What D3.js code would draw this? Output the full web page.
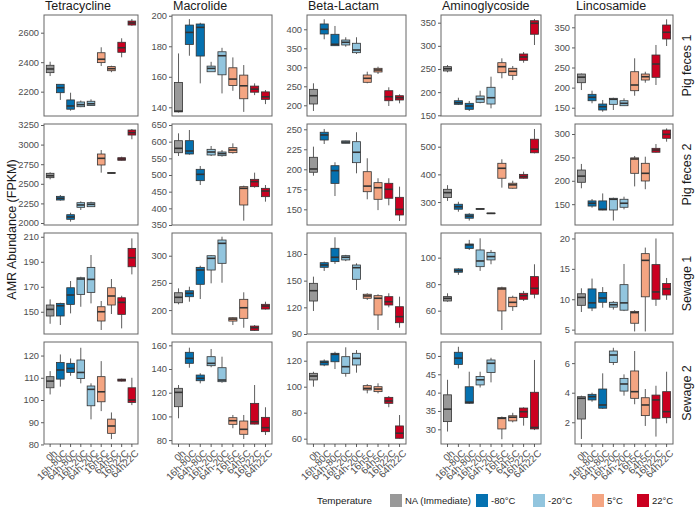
<!DOCTYPE html>
<html><head><meta charset="utf-8">
<script src="https://cdn.jsdelivr.net/npm/d3@7"></script>
<style>body{margin:0;background:#fff}svg{display:block}text{font-family:"Liberation Sans",Arial,sans-serif}</style>
</head><body><svg id="c" width="696" height="508"></svg>
<script>
const categories = ["0h","16h-80C","64h-80C","16h-20C","64h-20C","16h5C","64h5C","16h22C","64h22C"];
const categoryTemp = [0,1,1,2,2,3,3,4,4];
const drugs = ["Tetracycline","Macrolide","Beta-Lactam","Aminoglycoside","Lincosamide"];
const samples = ["Pig feces 1","Pig feces 2","Sewage 1","Sewage 2"];
const tempLabels = ["NA (Immediate)","-80°C","-20°C","5°C","22°C"];
const tempColors = ["#999999","#0571b0","#92c5de","#f4a582","#ca0020"];

// box stats per category: [lower whisker, Q1, median, Q3, upper whisker]
const tet_pig1 = [[2306,2329,2354,2379,2403],[2144,2193,2227,2250,2250],[2071,2081,2103,2144,2193],[2095,2098,2112,2130,2140],[2103,2106,2118,2135,2148],[2374,2397,2420,2464,2501],[2332,2342,2356,2370,2376],[2433,2467,2498,2535,2562],[2647,2652,2666,2679,2693]];
const mac_pig1 = [[136.6,137,137.5,156.3,175.3],[173.8,181.2,189.1,193.9,197.8],[155.7,173.6,192.4,194.6,195.4],[163.3,163.3,165.5,167,169.8],[149.1,161.3,173.8,176.4,179],[150.8,154.3,158.5,165.9,172.7],[137,145.6,154.1,161.1,167.7],[148,149.9,151.9,153.9,155.7],[142.1,145.2,146.9,150.1,151.3]];
const beta_pig1 = [[185,203.4,225.2,242,257.9],[373.7,387.6,400,414,426.3],[356,356.8,360.5,386.8,408.7],[354.2,358.7,365.8,371.8,379],[335,338.4,345.5,363.2,379],[257.9,260.5,271,279.7,288.4],[282.4,287.6,292.9,297.3,301.6],[198.1,212,222.6,238.4,247.3],[205.2,213.9,220,225.2,228.9]];
const amino_pig1 = [[242.9,245.7,250.6,255,258.6],[172.2,173.7,177.2,181.5,188],[159.3,162.9,170.1,175.9,180.9],[175.9,178,185.2,191.7,203.1],[165,174.4,188,210.5,233.4],[229.9,242,255,263.6,273.1],[226.2,236.4,245,251.5,256.5],[263.6,268.8,275.9,282.4,286.7],[301.8,325,348.7,354.3,358]];
const linco_pig1 = [[194,212.2,226,233.8,235],[161,167.4,175.9,183.3,192.3],[140,144.3,152.5,159.2,169.2],[144.3,158.4,171,173.4,174.9],[154.2,155,161,167.4,173.4],[179.8,192.3,206.5,239.5,272.9],[212.2,218.9,227.1,233.8,239.5],[206.5,225.6,258.7,281.1,306],[303.5,320.9,337.6,355.7,369.9]];

const tet_pig2 = [[2557,2578,2603,2634,2647],[2285,2293,2315,2340,2357],[2017,2047,2077,2106,2131],[2166,2200,2230,2259,2277],[2204,2208,2238,2259,2272],[2642,2740,2825,2880,2931],[2630,2635,2638,2642,2645],[2795,2800,2816,2833,2846],[3068,3122,3152,3186,3199]];
const mac_pig2 = [[557,566.9,580,602.9,625],[561,563,572,603,635],[470,483,502,517,527],[557,560,569,577,587],[555,558,564,569,575],[564,567,575,582,595],[363,410,460,465,468],[462,465,480,487,507],[420,435,452,460,470]];
const beta_pig2 = [[192,196.3,200.4,215,228.3],[231.6,236.6,242.9,246.3,250.4],[166.6,182.4,198.3,204.5,208.8],[232.3,232.5,234,235.5,235.8],[195,208.3,221.3,234.5,246.3],[162.5,172,179,197,213.8],[149,162.5,177,183.3,188.8],[155,163.8,175,182.5,188.8],[135.4,142.9,150,165,178.3]];
const amino_pig2 = [[304,316,334,346,361],[265,274,283,292,301],[233,241.5,249,256,259.6],[273,274,275,276,277],[257,258,259,260,261],[352,386,422,440,454.5],[348,350,362,368,377],[384,386,392,400,410],[476,478,491,527,564]];
const linco_pig2 = [[184,196.8,210,223,236],[142.5,146,152,157,161],[137,137.6,139,157,173],[115,137.6,160.5,162.6,164],[139,143.4,152,160.5,166],[188,216,246.6,249,253],[182,199.6,216,237.4,251.5],[260,261,265.8,269.4,278.6],[283.6,290.8,299.3,308.5,312]];

const tet_sew1 = [[140.4,146.6,151.9,155.4,159.9],[139.4,146.6,154.8,156.7,157.2],[148.7,155.9,163.4,169.2,174.6],[154,163.9,176.2,177.2,178],[156.7,165.5,175.9,185.5,195.4],[135.4,142.6,150,154,158.6],[148.2,155.4,162.6,169.2,176.2],[136.7,147.9,157.5,161.2,162.8],[179.9,186,193.2,200.7,208.7]];
const mac_sew1 = [[210.6,213.5,223.5,231.9,240],[215.4,224.6,230.8,235.6,243],[220.3,247.4,273.7,278.6,281.6],[249.2,273.7,295.2,300,301.3],[250.3,286,322.8,328.9,335],[172.5,179.8,183.5,185.9,187],[167.5,184.8,204.3,219.8,232.7],[161.5,162.7,167.5,170.6,172.5],[201,201.9,207.4,210.6,215.4]];
const beta_sew1 = [[115.9,127.1,138.7,147,154.5],[160.9,165,167.6,170.2,171.4],[168.8,171.4,176.3,186.4,198.8],[172,173.3,176.3,178.1,179],[139.5,151.5,164.6,167.6,169.5],[128.3,130.2,132.8,134.7,135.8],[94.5,111.4,130.2,133.1,134.7],[120,122.6,126.3,132,135.8],[97.1,102.7,109.5,120.7,132]];
const amino_sew1 = [[66.8,67.3,69.3,70.6,73.1],[87,89,90.2,91.5,92],[105.8,107,109.6,110.3,113.4],[90,93.2,97.5,105.8,114.6],[95,98.3,100.8,104,105.8],[45.4,59.8,76.4,77.3,78.1],[59.8,63,66.3,70.1,71.3],[67.3,68.6,71.3,73.1,74.9],[69.3,72.4,76.9,85.7,95]];
const linco_sew1 = [[7.9,9,10.3,10.9,11.8],[8.05,8.55,9.4,11.7,13.4],[8.6,9.5,10.2,11.1,12],[8.3,8.7,9.1,9.5,9.7],[8.05,8.2,9.4,12.4,15.8],[4.7,6.05,7.8,8.0,8.2],[4.7,10.4,16.4,17.5,18.5],[8.9,10,11.2,15.7,20],[9.9,10.7,11.7,12.6,13.5]];

const tet_sew2 = [[102.5,105.5,108.5,110.5,113],[106,109.4,113.5,116.9,120.5],[110.9,112.4,114.2,116.5,118.7],[107.5,109.7,112.4,118,123.5],[91.3,97.4,104.8,106.3,107.5],[95,99.2,103.7,110.5,117.5],[82.4,85,88.3,91.4,94.4],[108.3,108.5,109,109.4,109.6],[97.7,98.9,100,105.5,110]];
const mac_sew2 = [[98.4,108.2,120.3,123.7,126.5],[141.1,144.8,149,154.1,158],[127.9,130.1,132.2,134.9,136.4],[141.5,142.8,144.8,150.4,156.9],[128.4,129.3,130.7,141.1,150.4],[90,93.3,96.4,98.9,101.2],[80.9,84.9,89.1,96.1,101.2],[93.2,93.5,95.5,111,126.5],[84.3,87.1,90.5,99.2,107.7]];
const beta_sew2 = [[100,105.2,108.2,110.3,111.5],[115.8,116.7,118.8,119.8,121],[113.6,119.2,124.9,125.7,126.9],[107.7,110.3,115.4,123.1,130.3],[110.8,116.7,121.8,125.7,128.2],[94.9,97.5,98.7,100.8,102],[94.9,96.2,98.2,100,102.6],[84.2,87.2,89,91.8,92.8],[60,60.3,64.2,69.8,78.2]];
const amino_sew2 = [[29.4,32.1,35.5,39.4,43.5],[46.6,47.7,49.4,51,52.5],[36.9,37.1,37.4,41.6,45.7],[41.4,42.1,43.5,44.4,45.7],[42.8,45.5,48,48.9,49.5],[27.3,30.1,33,33.2,33.5],[31.9,32.3,33.3,33.7,34.5],[31,33.2,34.8,35.8,36],[29.8,30.1,30.5,40.1,48.9]];
const linco_sew2 = [[0.87,2.22,3.62,3.73,3.8],[3.39,3.51,3.73,3.89,4],[2.9,2.95,3.17,4.25,5.31],[5.87,6.05,6.55,6.82,7.04],[3.8,4.11,4.59,4.97,5.24],[3.22,3.62,4.07,5.47,6.82],[1.75,2.45,3.17,3.66,4.25],[1.03,2.27,3.51,3.84,4.47],[1.93,2.31,2.72,4.07,5.42]];

// y-axis ranges and tick labels per panel (rows = samples, columns = drugs)
const yDomains = [
  [[2035,2720],[134.3,200.5],[171.8,437.6],[148.5,366.6],[129.4,380.6]],
  [[1974.5,3262.8],[350,653],[130.4,256.6],[217,582],[105.5,321.4]],
  [[132.2,213],[156,341.8],[90,203.6],[42.4,118.6],[4.28,20.9]],
  [[80.2,126.1],[76.7,162.8],[55.9,134.4],[26,53.8],[0.53,7.43]]
];
const yTicks = [
  [[2200,2400,2600],[140,160,180,200],[200,250,300,350,400],[150,200,250,300,350],[150,200,250,300,350]],
  [[2000,2250,2500,2750,3000,3250],[350,400,450,500,550,600,650],[150,175,200,225,250],[300,400,500],[150,200,250,300]],
  [[150,170,190,210],[200,250,300],[90,120,150,180],[60,80,100],[5,10,15,20]],
  [[80,90,100,110,120],[80,100,120,140,160],[60,80,100,120],[30,35,40,45,50],[2,4,6]]
];
const panelData = [
  [tet_pig1,mac_pig1,beta_pig1,amino_pig1,linco_pig1],
  [tet_pig2,mac_pig2,beta_pig2,amino_pig2,linco_pig2],
  [tet_sew1,mac_sew1,beta_sew1,amino_sew1,linco_sew1],
  [tet_sew2,mac_sew2,beta_sew2,amino_sew2,linco_sew2]
];

// layout
const colL = [44,172,307,441,575], colR = [138,272,406,541,673];
const rowT = [15,124,233,342], rowB = [116,225,334,444];
const tickCol = "#333333", labCol = "#4d4d4d", fs = 9.3;

const svg = d3.select("#c");
svg.append("rect").attr("width",696).attr("height",508).attr("fill","#fff");

drugs.forEach((d,c)=>{
  svg.append("text").attr("x",colL[c]+1).attr("y",10).attr("font-size",12.5).attr("fill","#1a1a1a").text(d);
});
samples.forEach((s,r)=>{
  svg.append("text").attr("transform",`translate(691,${(rowT[r]+rowB[r])/2}) rotate(-90)`)
    .attr("text-anchor","middle").attr("font-size",12.5).attr("fill","#1a1a1a").text(s);
});
svg.append("text").attr("transform",`translate(16,${(rowT[0]+rowB[3])/2}) rotate(-90)`)
  .attr("text-anchor","middle").attr("font-size",12.5).attr("fill","#1a1a1a").text("AMR Abundance (FPKM)");

for (let r=0;r<4;r++){
  for (let c=0;c<5;c++){
    // discrete x positions with ggplot-like expansion (0.6 units each side)
    const x = d3.scalePoint().domain(categories).range([0,categories.length-1]);
    const step = (colR[c]-colL[c])/(categories.length+0.2);
    const xc = cat => colL[c] + step*(0.6+x(cat));
    const y = d3.scaleLinear().domain(yDomains[r][c]).range([rowB[r],rowT[r]]);
    const g = svg.append("g");
    g.append("rect").attr("x",colL[c]).attr("y",rowT[r]).attr("width",colR[c]-colL[c]).attr("height",rowB[r]-rowT[r])
      .attr("fill","#fff");
    const ax = g.append("g").attr("transform",`translate(${colL[c]},0)`)
      .call(d3.axisLeft(y).tickValues(yTicks[r][c]).tickSize(3).tickPadding(2).tickFormat(d3.format("d")));
    ax.select(".domain").remove();
    ax.selectAll("line").attr("stroke",tickCol).attr("stroke-width",0.8);
    ax.selectAll("text").attr("fill",labCol).attr("font-size",fs).attr("font-family",null);
    const bw = step*0.75;
    const data = panelData[r][c];
    data.forEach((s,i)=>{
      const cx = xc(categories[i]);
      g.append("line").attr("x1",cx).attr("x2",cx).attr("y1",y(s[4])).attr("y2",y(s[3])).attr("stroke","#333").attr("stroke-width",0.8);
      g.append("line").attr("x1",cx).attr("x2",cx).attr("y1",y(s[1])).attr("y2",y(s[0])).attr("stroke","#333").attr("stroke-width",0.8);
      g.append("rect").attr("x",cx-bw/2).attr("y",y(s[3])).attr("width",bw).attr("height",Math.max(0.5,y(s[1])-y(s[3])))
        .attr("fill",tempColors[categoryTemp[i]]).attr("stroke","#333").attr("stroke-width",0.8);
      g.append("line").attr("x1",cx-bw/2).attr("x2",cx+bw/2).attr("y1",y(s[2])).attr("y2",y(s[2])).attr("stroke","#333").attr("stroke-width",1.6);
    });
    g.append("rect").attr("x",colL[c]).attr("y",rowT[r]).attr("width",colR[c]-colL[c]).attr("height",rowB[r]-rowT[r])
      .attr("fill","none").attr("stroke","#666").attr("stroke-width",1);
    if (r===3){
      categories.forEach((cat,i)=>{
        const cx = xc(cat);
        g.append("line").attr("x1",cx).attr("x2",cx).attr("y1",rowB[r]).attr("y2",rowB[r]+3).attr("stroke",tickCol).attr("stroke-width",0.8);
        g.append("text").attr("transform",`translate(${cx+2.5},${rowB[r]+5}) rotate(-45)`)
          .attr("text-anchor","end").attr("dy","0.72em").attr("font-size",9.9).attr("fill",labCol).text(cat);
      });
    }
  }
}

// legend
const leg = svg.append("g");
leg.append("text").attr("x",317).attr("y",504).attr("font-size",9.8).attr("fill","#1a1a1a").text("Temperature");
const keyX = [390,476,533,592,637];
tempLabels.forEach((t,i)=>{
  leg.append("rect").attr("x",keyX[i]).attr("y",494).attr("width",12).attr("height",13).attr("fill",tempColors[i]);
  leg.append("text").attr("x",keyX[i]+15).attr("y",504).attr("font-size",9.5).attr("fill","#1a1a1a").text(t);
});
</script></body></html>
